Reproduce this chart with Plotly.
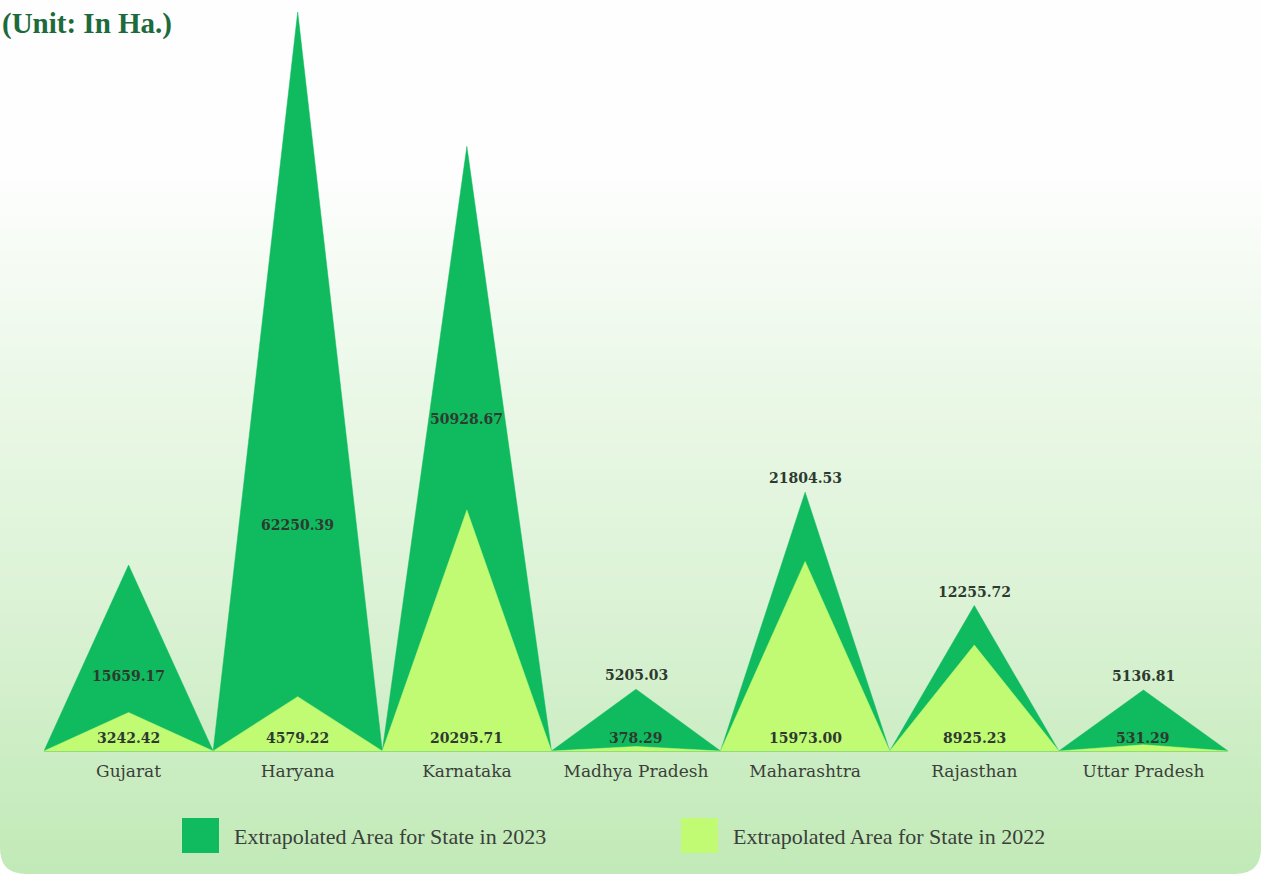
import plotly.graph_objects as go

# ---- data ----
states = ["Gujarat", "Haryana", "Karnataka", "Madhya Pradesh", "Maharashtra", "Rajasthan", "Uttar Pradesh"]
area_2023 = [15659.17, 62250.39, 50928.67, 5205.03, 21804.53, 12255.72, 5136.81]
area_2022 = [3242.42, 4579.22, 20295.71, 378.29, 15973.00, 8925.23, 531.29]
series_names = ["Extrapolated Area for State in 2023", "Extrapolated Area for State in 2022"]
unit_title = "(Unit: In Ha.)"

# ---- styles ----
W, H = 1261, 874
ML, MR, MT, MB = 44, 33, 12, 123
DARK = "#0fbb5e"
LIGHT = "#c1fb74"
TXT = "#2e3a30"
SERIF = "DejaVu Serif"

fig = go.Figure()

def add_spikes(values, color, name):
    xs, ys = [], []
    for i, v in enumerate(values):
        xs += [i - 0.5, i, i + 0.5, None]
        ys += [0, v, 0, None]
    fig.add_trace(go.Scatter(x=xs, y=ys, mode="lines", fill="toself", fillcolor=color,
                             line=dict(color=color, width=0.5), name=name,
                             showlegend=False, hoverinfo="skip"))

add_spikes(area_2023, DARK, series_names[0])
add_spikes(area_2022, LIGHT, series_names[1])

ymax = max(area_2023)

# value labels
for i, (a, b) in enumerate(zip(area_2023, area_2022)):
    fig.add_annotation(x=i, y=0, text=f"<b>{b:.2f}</b>", showarrow=False, yanchor="bottom",
                       yshift=3, font=dict(family=SERIF, size=14, color=TXT))
    if a - b > 8000:
        fig.add_annotation(x=i, y=b + 0.25 * (a - b), text=f"<b>{a:.2f}</b>", showarrow=False,
                           yanchor="middle", font=dict(family=SERIF, size=14, color=TXT))
    else:
        fig.add_annotation(x=i, y=a, text=f"<b>{a:.2f}</b>", showarrow=False,
                           yanchor="bottom", yshift=4, font=dict(family=SERIF, size=14, color=TXT))

def px_x(px):
    return (px - ML) / (W - ML - MR)

def px_y(py):
    return (H - MB - py) / (H - MB - MT)

# background gradient (white top -> light green bottom), in pixel rows
stops = [(0, (255, 255, 255)), (180, (253, 254, 253)), (400, (234, 248, 230)),
         (600, (220, 243, 214)), (800, (200, 236, 191)), (874, (194, 234, 184))]
shapes = []
step = 12
for y in range(0, H, step):
    yc = y + step / 2
    for (ya, ca), (yb, cb) in zip(stops[:-1], stops[1:]):
        if ya <= yc <= yb:
            u = (yc - ya) / (yb - ya)
            c = tuple(int(ca[j] + (cb[j] - ca[j]) * u) for j in range(3))
            break
    shapes.append(dict(type="rect", xref="paper", yref="paper", x0=px_x(-2), x1=px_x(W + 2),
                       y0=px_y(y + step + 1), y1=px_y(y), fillcolor=f"rgb{c}",
                       line=dict(width=0), layer="below"))

# rounded bottom corners of the card
r = 26
for cx, sgn in [(0, 1), (W, -1)]:
    path = (f"M {px_x(cx)},{px_y(H - r)} Q {px_x(cx)},{px_y(H)} {px_x(cx + sgn * r)},{px_y(H)} "
            f"L {px_x(cx)},{px_y(H + 2)} Z")
    shapes.append(dict(type="path", xref="paper", yref="paper", path=path,
                       fillcolor="white", line=dict(width=0), layer="below"))

legend_items = [(182, DARK, series_names[0]), (681, LIGHT, series_names[1])]
for lx, col, name in legend_items:
    shapes.append(dict(type="rect", xref="paper", yref="paper",
                       x0=px_x(lx), x1=px_x(lx + 37), y0=px_y(853), y1=px_y(818),
                       fillcolor=col, line=dict(width=0), layer="above"))
    fig.add_annotation(xref="paper", yref="paper", x=px_x(lx + 50), y=px_y(836),
                       xanchor="left", yanchor="middle", text=name, showarrow=False,
                       font=dict(family="Liberation Serif", size=22, color="#3a403a"))

fig.add_annotation(xref="paper", yref="paper", x=px_x(0), y=px_y(23),
                   xanchor="left", yanchor="middle", text=f"<b>{unit_title}</b>", showarrow=False,
                   font=dict(family="Liberation Serif", size=29, color="#1d6b3c"))

fig.update_layout(
    width=W, height=H,
    margin=dict(l=ML, r=MR, t=MT, b=MB),
    paper_bgcolor="white", plot_bgcolor="rgba(0,0,0,0)",
    shapes=shapes, showlegend=False,
    xaxis=dict(range=[-0.5, 6.5], tickmode="array", tickvals=list(range(len(states))),
               ticktext=states, showgrid=False, zeroline=False, showline=True,
               linecolor="#8fdc7c", linewidth=1, ticks="", ticklabelstandoff=5,
               tickfont=dict(family=SERIF, size=17, color="#3a3f3a"), fixedrange=True),
    yaxis=dict(range=[0, ymax], visible=False, showgrid=False, zeroline=False, fixedrange=True),
)

fig.write_html("out.html", config={"displayModeBar": False},
               post_script="document.body.style.margin='0';document.body.style.overflow='hidden';")
